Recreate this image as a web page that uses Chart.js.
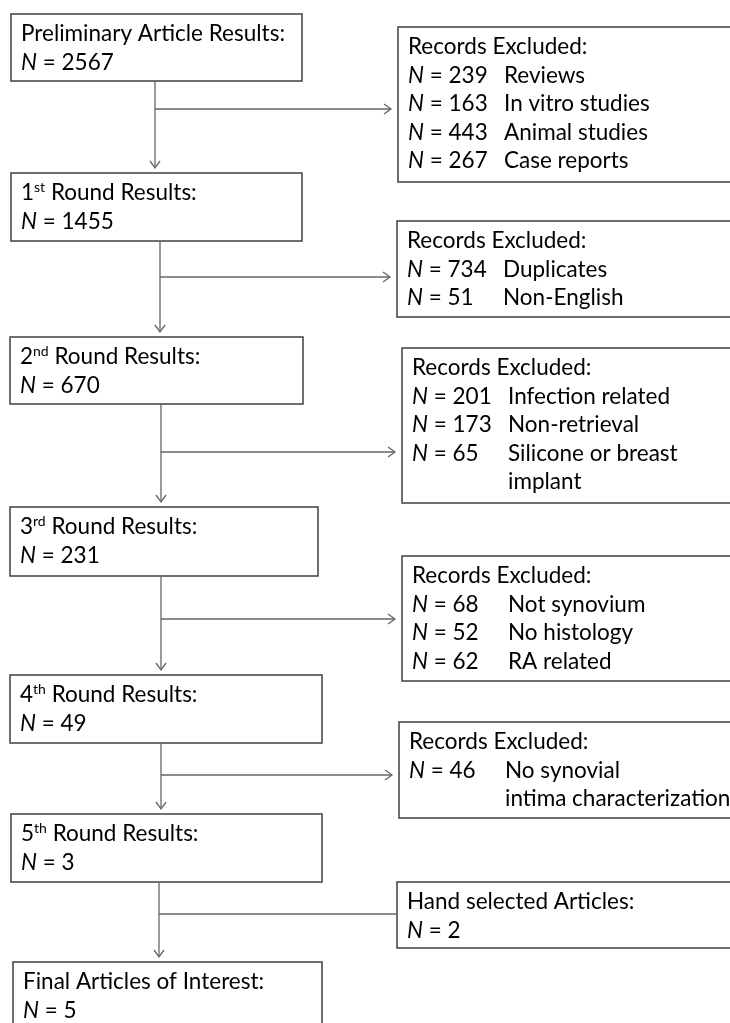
<!DOCTYPE html>
<html>
<head>
<meta charset="utf-8">
<title>Article selection flow</title>
<script src="https://cdn.jsdelivr.net/npm/chart.js@4.4.1/dist/chart.umd.min.js"></script>
<style>
  html, body { margin: 0; padding: 0; background: #fff; }
  #wrap { width: 730px; height: 1023px; overflow: hidden; }
</style>
</head>
<body>
<div id="wrap"><canvas id="flowChart" width="730" height="1023"></canvas></div>
<script>
// stage names; text between | is superscript
const stageNames = [
    'Preliminary Article Results:',
    '1|st| Round Results:',
    '2|nd| Round Results:',
    '3|rd| Round Results:',
    '4|th| Round Results:',
    '5|th| Round Results:',
    'Final Articles of Interest:'
];
const stageCounts = [2567, 1455, 670, 231, 49, 3, 5];

const excludedTitle = 'Records Excluded:';
const excludedCounts = [
    [239, 163, 443, 267],
    [734, 51],
    [201, 173, 65],
    [68, 52, 62],
    [46]
];
const excludedReasons = [
    ['Reviews', 'In vitro studies', 'Animal studies', 'Case reports'],
    ['Duplicates', 'Non-English'],
    ['Infection related', 'Non-retrieval', 'Silicone or breast\nimplant'],
    ['Not synovium', 'No histology', 'RA related'],
    ['No synovial\nintima characterization']
];

const addedTitle = 'Hand selected Articles:';
const addedCount = 2;

// layout (in axis units, 0..730 x 0..1023)
const stageBoxes = [
    { x0: 11, x1: 302, y0: 14, y1: 81 },
    { x0: 11, x1: 302, y0: 173, y1: 241 },
    { x0: 10, x1: 303, y0: 337, y1: 404 },
    { x0: 10, x1: 318, y0: 507, y1: 576 },
    { x0: 10, x1: 322, y0: 675, y1: 743 },
    { x0: 11, x1: 322, y0: 814, y1: 882 },
    { x0: 13, x1: 322, y0: 962, y1: 1040 }
];
const trunkX = [155, 160, 161, 161, 161, 159];
const branchY = [109, 277, 452, 619, 775, 914];
const sideBoxes = [
    { x0: 398, y0: 27, y1: 182 },
    { x0: 397, y0: 221, y1: 317 },
    { x0: 402, y0: 348, y1: 503 },
    { x0: 402, y0: 556, y1: 681 },
    { x0: 399, y0: 722, y1: 818 },
    { x0: 397, y0: 882, y1: 948 }
];

const FONT = 'Lato, "Open Sans", sans-serif';
const FONT_SIZE = 22.5;
const LINE_H = 28.6;
const TEXT_COLOR = '#000000';
const BOX_COLOR = '#404040';
const LINE_COLOR = '#666666';

function drawRich(ctx, parts, x, y) {
    // parts: [{t, italic, sup}]
    let cx = x;
    parts.forEach(p => {
        const size = p.sup ? Math.round(FONT_SIZE * 0.6) : FONT_SIZE;
        ctx.font = (p.italic ? 'italic ' : '') + size + 'px ' + FONT;
        ctx.fillText(p.t, cx, p.sup ? y - FONT_SIZE * 0.36 : y);
        cx += ctx.measureText(p.t).width;
    });
}

function nameParts(name) {
    return name.split('|').map((t, i) => ({ t: t, sup: i % 2 === 1 }));
}

function countParts(n) {
    return [{ t: 'N', italic: true }, { t: ' = ' + n }];
}

function arrowHead(ctx, x, y, dir) {
    const len = 7, half = 5;
    ctx.beginPath();
    if (dir === 'down') {
        ctx.moveTo(x - half, y - len);
        ctx.lineTo(x, y);
        ctx.lineTo(x + half, y - len);
    } else {
        ctx.moveTo(x - len, y - half);
        ctx.lineTo(x, y);
        ctx.lineTo(x - len, y + half);
    }
    ctx.stroke();
}

const flowPlugin = {
    id: 'flow',
    afterDraw(chart) {
        const ctx = chart.ctx;
        const sx = v => chart.scales.x.getPixelForValue(v);
        const sy = v => chart.scales.y.getPixelForValue(v);
        const right = sx(735);

        ctx.save();
        ctx.textBaseline = 'alphabetic';
        ctx.textAlign = 'left';

        // stage boxes
        stageBoxes.forEach((b, i) => {
            ctx.strokeStyle = BOX_COLOR;
            ctx.lineWidth = 1.5;
            ctx.strokeRect(sx(b.x0), sy(b.y0), sx(b.x1) - sx(b.x0), sy(b.y1) - sy(b.y0));
            ctx.fillStyle = TEXT_COLOR;
            const tx = sx(b.x0 + 10);
            drawRich(ctx, nameParts(stageNames[i]), tx, sy(b.y0 + 27));
            drawRich(ctx, countParts(stageCounts[i]), tx, sy(b.y0 + 27 + LINE_H));
        });

        // side boxes
        sideBoxes.forEach((b, i) => {
            ctx.strokeStyle = BOX_COLOR;
            ctx.lineWidth = 1.5;
            ctx.strokeRect(sx(b.x0), sy(b.y0), right - sx(b.x0), sy(b.y1) - sy(b.y0));
            ctx.fillStyle = TEXT_COLOR;
            const tx = sx(b.x0 + 10);
            const col2 = sx(b.x0 + 106);
            let by = b.y0 + 27;
            if (i < excludedCounts.length) {
                drawRich(ctx, [{ t: excludedTitle }], tx, sy(by));
                excludedCounts[i].forEach((n, k) => {
                    by += LINE_H;
                    drawRich(ctx, countParts(n), tx, sy(by));
                    excludedReasons[i][k].split('\n').forEach((line, j) => {
                        if (j > 0) by += LINE_H;
                        drawRich(ctx, [{ t: line }], col2, sy(by));
                    });
                });
            } else {
                drawRich(ctx, [{ t: addedTitle }], tx, sy(by));
                drawRich(ctx, countParts(addedCount), tx, sy(by + LINE_H));
            }
        });

        // connectors
        ctx.strokeStyle = LINE_COLOR;
        ctx.lineWidth = 1.3;
        trunkX.forEach((x, i) => {
            const top = stageBoxes[i].y1;
            const tip = stageBoxes[i + 1].y0 - 5;
            ctx.beginPath();
            ctx.moveTo(sx(x), sy(top));
            ctx.lineTo(sx(x), sy(tip));
            ctx.stroke();
            arrowHead(ctx, sx(x), sy(tip), 'down');

            const side = sideBoxes[i];
            const isAdded = i >= excludedCounts.length;
            const end = isAdded ? side.x0 : side.x0 - 7;
            ctx.beginPath();
            ctx.moveTo(sx(x), sy(branchY[i]));
            ctx.lineTo(sx(end), sy(branchY[i]));
            ctx.stroke();
            if (!isAdded) arrowHead(ctx, sx(end), sy(branchY[i]), 'right');
        });

        ctx.restore();
    }
};

new Chart(document.getElementById('flowChart'), {
    type: 'scatter',
    data: { datasets: [{ data: [], pointRadius: 0 }] },
    options: {
        responsive: false,
        animation: false,
        devicePixelRatio: 1,
        layout: { padding: 0 },
        plugins: { legend: { display: false }, tooltip: { enabled: false } },
        scales: {
            x: { type: 'linear', min: 0, max: 730, display: false },
            y: { type: 'linear', min: 0, max: 1023, reverse: true, display: false }
        }
    },
    plugins: [flowPlugin]
});
</script>
</body>
</html>
